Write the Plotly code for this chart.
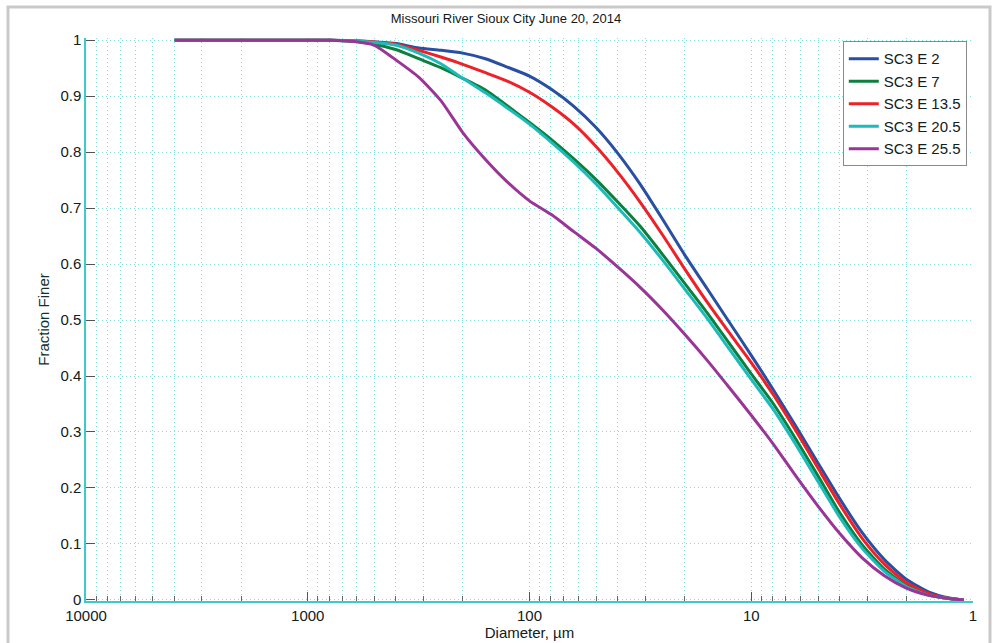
import plotly.graph_objects as go

# ---- data ----
diameter_um = [3981, 1000, 794, 631, 501, 398, 316, 251, 200, 158, 126, 100, 79.4, 63.1, 50.1, 39.8,
               31.6, 25.1, 20.0, 15.8, 12.6, 10.0, 7.94, 6.31, 5.01, 3.98, 3.16, 2.51, 2.0, 1.58, 1.26, 1.1]

sc3_e_2 = [1, 1, 1, 0.999, 0.997, 0.994, 0.986, 0.982, 0.977, 0.967, 0.952, 0.936, 0.912, 0.882, 0.844, 0.797,
           0.742, 0.68, 0.617, 0.556, 0.497, 0.437, 0.375, 0.311, 0.245, 0.18, 0.12, 0.072, 0.037, 0.014, 0.003, 0.0]
sc3_e_7 = [1, 1, 1, 0.998, 0.993, 0.983, 0.967, 0.951, 0.932, 0.911, 0.883, 0.853, 0.822, 0.788, 0.751, 0.71,
           0.667, 0.617, 0.566, 0.513, 0.459, 0.404, 0.35, 0.288, 0.222, 0.155, 0.098, 0.055, 0.026, 0.009, 0.002, 0.0]
sc3_e_13_5 = [1, 1, 1, 0.999, 0.997, 0.993, 0.982, 0.97, 0.957, 0.942, 0.927, 0.907, 0.881, 0.85, 0.81, 0.763,
              0.71, 0.652, 0.592, 0.532, 0.478, 0.424, 0.366, 0.303, 0.236, 0.17, 0.11, 0.064, 0.031, 0.011, 0.002, 0.0]
sc3_e_20_5 = [1, 1, 1, 0.999, 0.996, 0.991, 0.977, 0.958, 0.932, 0.906, 0.879, 0.85, 0.817, 0.782, 0.743, 0.70,
              0.656, 0.607, 0.556, 0.503, 0.449, 0.394, 0.34, 0.278, 0.212, 0.147, 0.092, 0.051, 0.024, 0.008, 0.002, 0.0]
sc3_e_25_5 = [1, 1, 1, 0.998, 0.991, 0.964, 0.934, 0.892, 0.835, 0.787, 0.747, 0.713, 0.688, 0.658, 0.628, 0.594,
              0.558, 0.518, 0.475, 0.428, 0.38, 0.33, 0.278, 0.222, 0.168, 0.118, 0.075, 0.043, 0.021, 0.008, 0.002, 0.0]

series_names = ["SC3 E 2", "SC3 E 7", "SC3 E 13.5", "SC3 E 20.5", "SC3 E 25.5"]
series_values = [sc3_e_2, sc3_e_7, sc3_e_13_5, sc3_e_20_5, sc3_e_25_5]
series_colors = ["#2a4fa2", "#0d7f3e", "#ee2028", "#1cbaba", "#9a3598"]

x_tick_vals = [10000, 1000, 100, 10, 1]
x_tick_text = ["10000", "1000", "100", "10", "1"]
y_tick_vals = [0, 0.1, 0.2, 0.3, 0.4, 0.5, 0.6, 0.7, 0.8, 0.9, 1]
y_tick_text = ["0", "0.1", "0.2", "0.3", "0.4", "0.5", "0.6", "0.7", "0.8", "0.9", "1"]
minor_x = [k * 10 ** e for e in range(0, 4) for k in range(2, 10)]

FONT = "Liberation Sans, Arial, sans-serif"
GRID = "rgba(50,200,200,0.6)"
GRID_DASH = "1px,3px"
AXIS = "#3fcaca"

fig = go.Figure()
for name, vals, col in zip(series_names, series_values, series_colors):
    fig.add_trace(go.Scatter(x=diameter_um, y=vals, name=name, mode="lines",
                             line=dict(color=col, width=3, shape="spline", smoothing=0.6)))

fig.update_layout(
    width=995, height=643,
    margin=dict(l=86, r=22, t=38, b=42, autoexpand=False),
    paper_bgcolor="white", plot_bgcolor="white",
    font=dict(family=FONT, size=15, color="#102020"),
    title=dict(text="Missouri River Sioux City June 20, 2014", x=506 / 995, xanchor="center",
               xref="container", y=1 - 18 / 643, yanchor="middle", yref="container",
               font=dict(size=13, color="#101818")),
    showlegend=True,
    legend=dict(x=0.993, xanchor="right", y=0.994, yanchor="top",
                bgcolor="white", bordercolor="#8a8a8a", borderwidth=1,
                font=dict(size=15, color="#102020"), tracegroupgap=0),
)

fig.update_xaxes(
    type="log", range=[4, 0],
    tickmode="array", tickvals=x_tick_vals, ticktext=x_tick_text,
    ticks="inside", ticklen=9, tickcolor="#555", tickwidth=1,
    showline=True, linecolor=AXIS, linewidth=1.5, mirror=False,
    showgrid=True, gridcolor=GRID, griddash=GRID_DASH, gridwidth=1,
    minor=dict(tickmode="array", tickvals=minor_x, ticks="inside", ticklen=5, tickcolor="#666",
               showgrid=True, gridcolor=GRID, griddash=GRID_DASH, gridwidth=1),
    zeroline=False,
    title=dict(text="Diameter, \u00b5m", font=dict(size=15, color="#102020"), standoff=4),
    tickfont=dict(size=15, color="#102020"),
)
fig.update_yaxes(
    range=[-0.002, 1.004],
    tickmode="array", tickvals=y_tick_vals, ticktext=y_tick_text,
    ticks="inside", ticklen=9, tickcolor="#555", tickwidth=1,
    showline=True, linecolor=AXIS, linewidth=1.5, mirror=False,
    showgrid=True, gridcolor=GRID, griddash=GRID_DASH, gridwidth=1,
    zeroline=False,
    title=dict(text="Fraction Finer", font=dict(size=15, color="#0f3030"), standoff=7),
    tickfont=dict(size=15, color="#102020"),
)

# light grey outer frame of the original figure image
fig.add_shape(type="rect", xref="paper", yref="paper",
              x0=(8 - 86) / 887, x1=(990 - 86) / 887,
              y0=(601 - 660) / 563, y1=(601 - 7) / 563,
              line=dict(color="#c9c9c9", width=3), fillcolor="rgba(0,0,0,0)", layer="below")

fig.write_html("out.html")
